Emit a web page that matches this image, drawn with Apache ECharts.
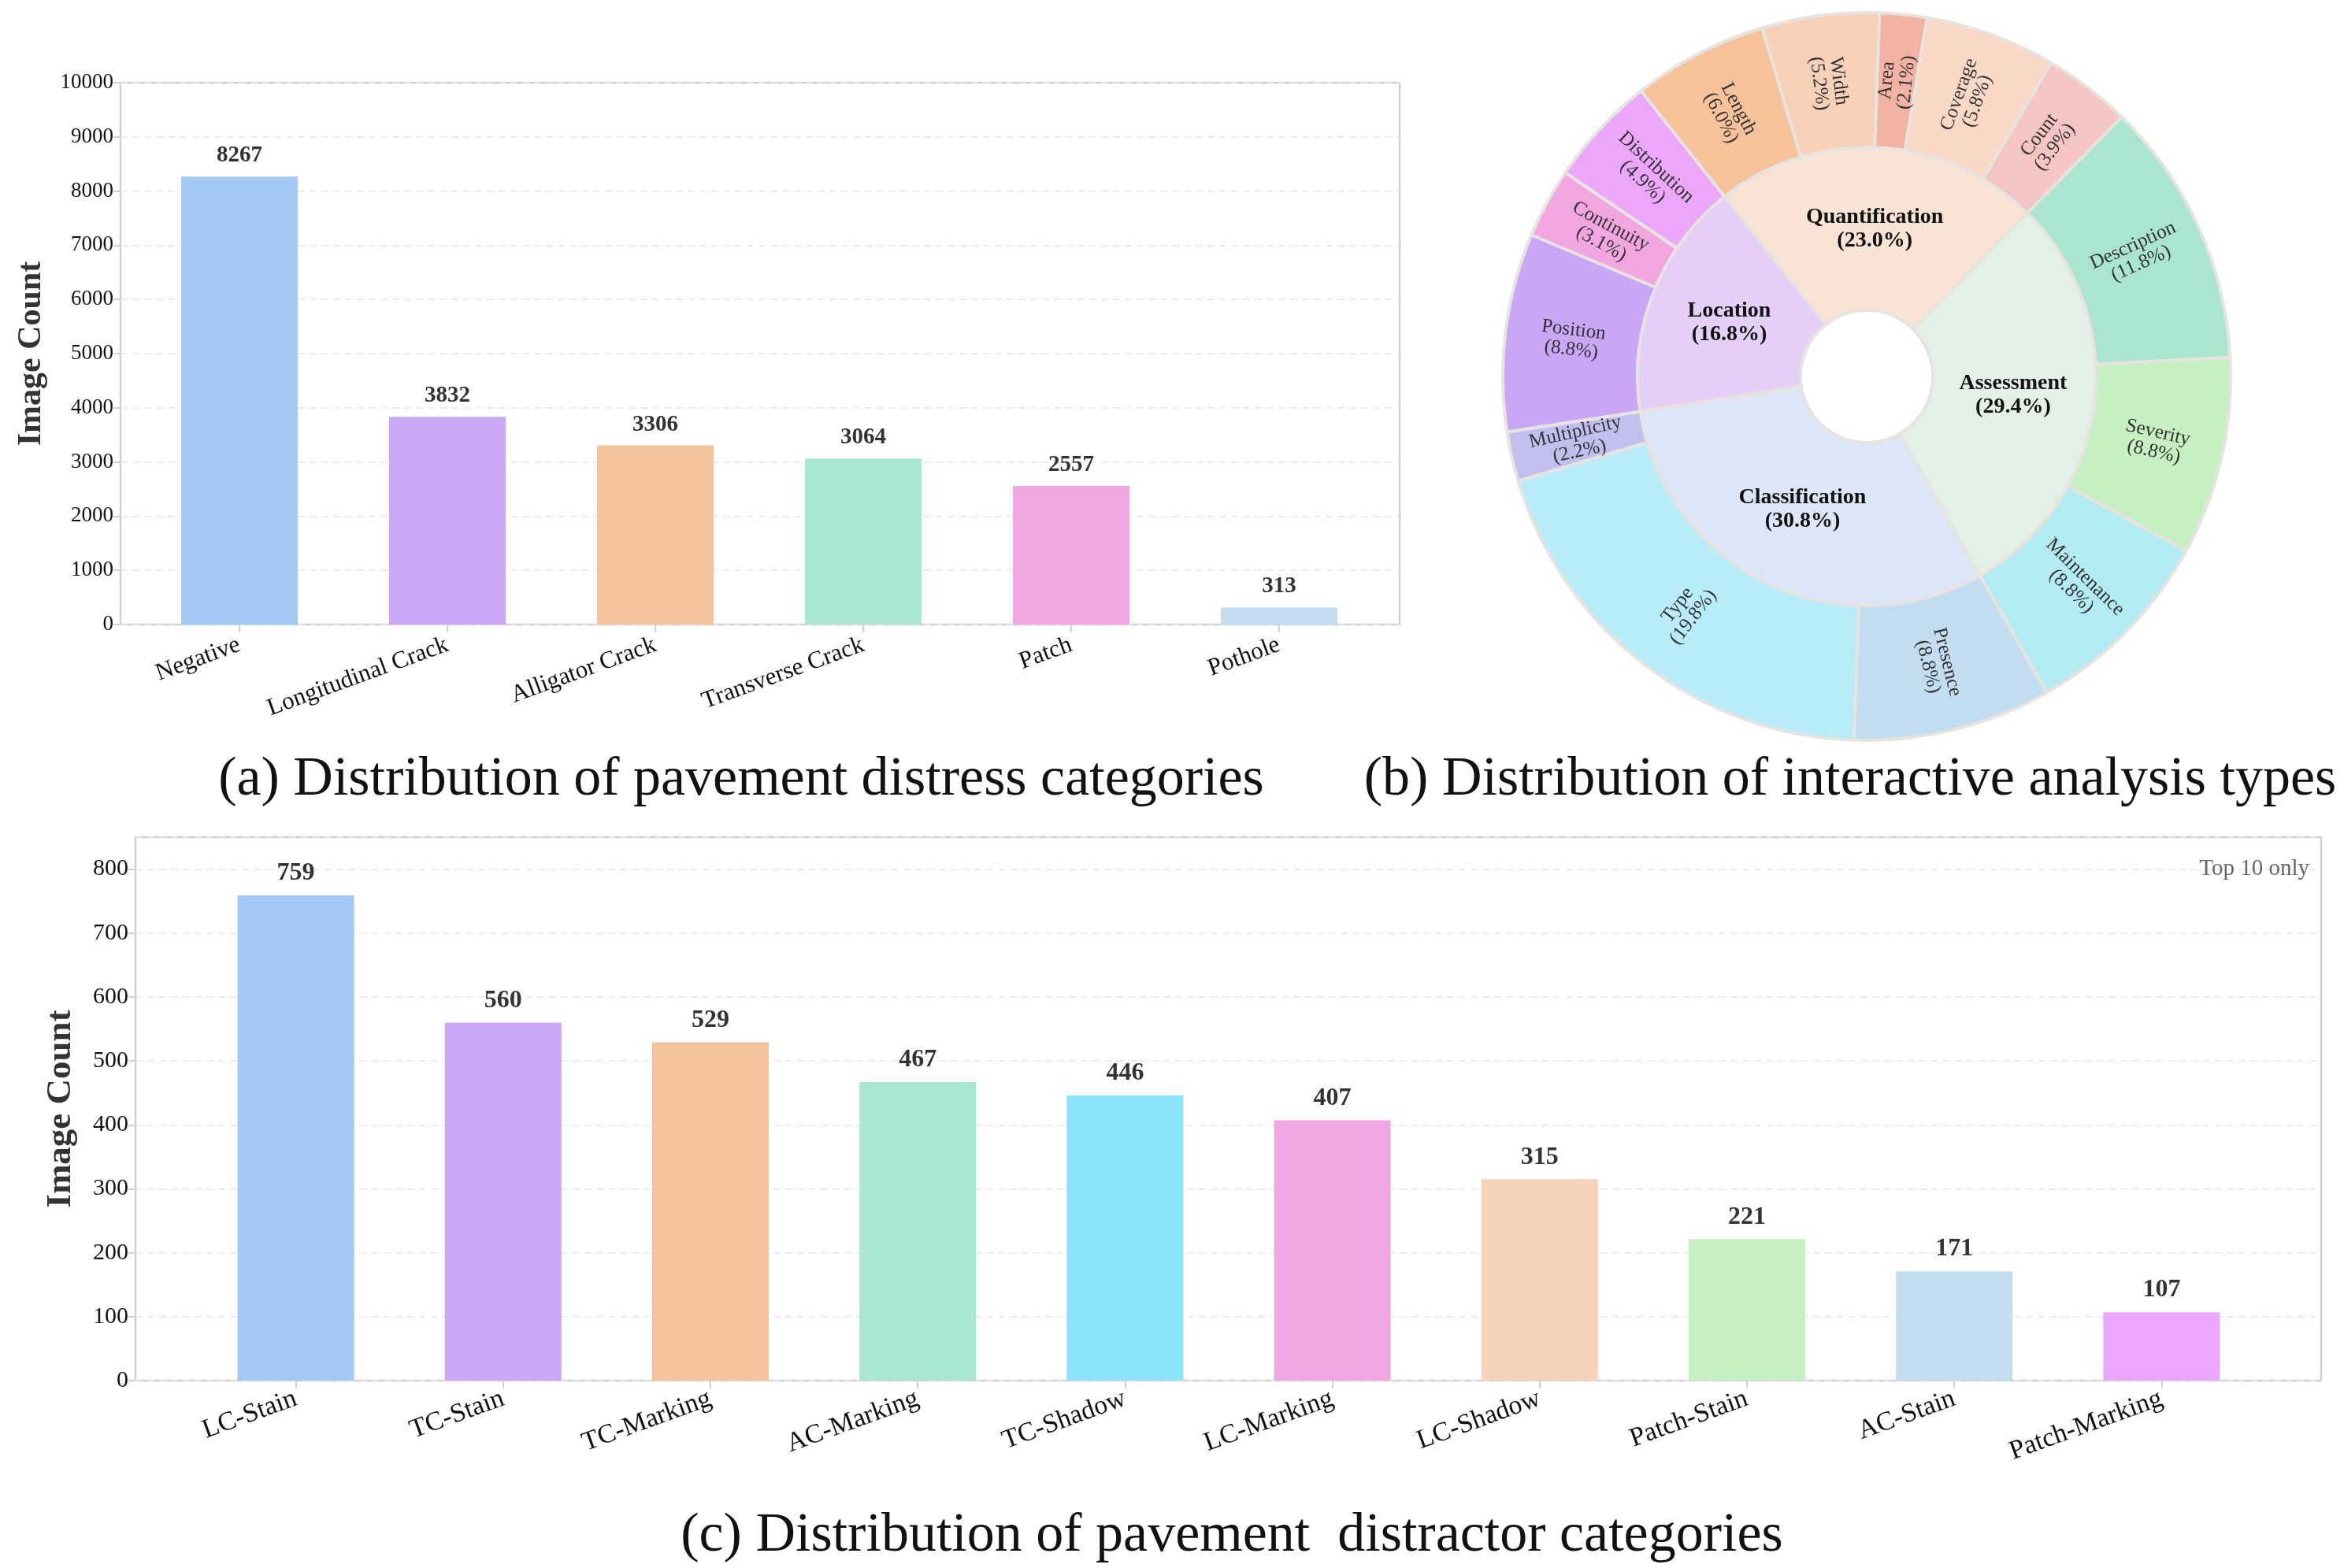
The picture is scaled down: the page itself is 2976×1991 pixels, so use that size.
<!DOCTYPE html>
<html>
<head>
<meta charset="utf-8">
<script src="https://cdn.jsdelivr.net/npm/echarts@6/dist/echarts.min.js"></script>
<style>
html,body{margin:0;padding:0;background:#fff;}
#c{width:2976px;height:1991px;}
</style>
</head>
<body>
<div id="c"></div>
<script>
// ---------- DATA ----------
const distressCategories = ['Negative', 'Longitudinal Crack', 'Alligator Crack', 'Transverse Crack', 'Patch', 'Pothole'];
const distressCounts = [8267, 3832, 3306, 3064, 2557, 313];
const distressColors = ['#a3c8f3', '#c9a8f7', '#f5c39b', '#aae7d2', '#f1a7e1', '#c2ddef'];
const distressTicks = [0, 1000, 2000, 3000, 4000, 5000, 6000, 7000, 8000, 9000, 10000];

const distractorCategories = ['LC-Stain', 'TC-Stain', 'TC-Marking', 'AC-Marking', 'TC-Shadow', 'LC-Marking', 'LC-Shadow', 'Patch-Stain', 'AC-Stain', 'Patch-Marking'];
const distractorCounts = [759, 560, 529, 467, 446, 407, 315, 221, 171, 107];
const distractorColors = ['#a3c8f3', '#c9a8f7', '#f5c39b', '#aae7d2', '#8ae4fa', '#f1a7e1', '#f5d2b8', '#c6f0c2', '#c2ddef', '#eaa7fb'];

const analysisGroups = ['Assessment', 'Classification', 'Location', 'Quantification'];
const analysisGroupPct = [29.4, 30.8, 16.8, 23.0];
const analysisGroupColors = ['#e2f0e6', '#dce6f6', '#e6cff7', '#f9e3d5'];
const analysisChildNames = [
  ['Description', 'Severity', 'Maintenance'],
  ['Presence', 'Type', 'Multiplicity'],
  ['Position', 'Continuity', 'Distribution'],
  ['Length', 'Width', 'Area', 'Coverage', 'Count']
];
const analysisChildPct = [
  [11.8, 8.8, 8.8],
  [8.8, 19.8, 2.2],
  [8.8, 3.1, 4.9],
  [6.0, 5.2, 2.1, 5.8, 3.9]
];
const analysisChildColors = [
  ['#a9e5cf', '#c6efc2', '#b2ebf2'],
  ['#c1ddef', '#b8ecf9', '#c0bfee'],
  ['#caa6f7', '#f1a6e0', '#eca6fa'],
  ['#f5c299', '#f6d1b7', '#f2b3a2', '#f9d9c5', '#f5c5c4']
];

const captions = ['(a) Distribution of pavement distress categories', '(b) Distribution of interactive analysis types', '(c) Distribution of pavement  distractor categories'];
const noteText = 'Top 10 only';

// ---------- BUILD ----------
const FONT = '"Liberation Serif", "Times New Roman", serif';
const frameColor = '#d0d0d0';

const sunData = analysisGroups.map((g, i) => ({
  name: g,
  value: analysisGroupPct[i],
  itemStyle: { color: analysisGroupColors[i] },
  children: analysisChildNames[i].map((n, j) => ({
    name: n,
    value: analysisChildPct[i][j],
    itemStyle: { color: analysisChildColors[i][j] }
  }))
}));

function frameY(gi, max, interval, fs, nameFs, nameGap, showMax) {
  return {
    gridIndex: gi, type: 'value', min: 0, max: max, interval: interval,
    axisLine: { show: false },
    axisTick: { show: true, length: 9, lineStyle: { color: frameColor, width: 2 } },
    axisLabel: { fontFamily: FONT, fontSize: fs, color: '#111', margin: 9, showMaxLabel: showMax, formatter: v => String(v) },
    splitLine: { show: true, lineStyle: { color: '#e6e6e6', width: 1.5, type: [9, 6] } },
    name: 'Image Count', nameLocation: 'middle', nameGap: nameGap,
    nameTextStyle: { fontFamily: FONT, fontSize: nameFs, fontWeight: 'bold', color: '#333' }
  };
}
function barX(gi, cats, fs, margin) {
  return {
    gridIndex: gi, type: 'category', data: cats,
    axisLine: { show: false },
    axisTick: { show: true, alignWithLabel: true, length: 10, lineStyle: { color: frameColor, width: 2 } },
    axisLabel: { rotate: 20, fontFamily: FONT, fontSize: fs, color: '#111', margin: margin, interval: 0 }
  };
}
function barSeries(xi, vals, colors, fs) {
  return {
    type: 'bar', xAxisIndex: xi, yAxisIndex: xi, barWidth: 148,
    data: vals.map((v, i) => ({ value: v, itemStyle: { color: colors[i] } })),
    label: { show: true, position: 'top', distance: 12, fontFamily: FONT, fontSize: fs, fontWeight: 'bold', color: '#333' },
    silent: true
  };
}

const option = {
  animation: false,
  backgroundColor: '#fff',
  grid: [
    { left: 153, top: 105, width: 1624, height: 688, show: true, borderColor: frameColor, borderWidth: 2.5, backgroundColor: 'transparent' },
    { left: 172, top: 105, width: 1584, height: 688 },
    { left: 172, top: 1063, width: 2775, height: 690, show: true, borderColor: frameColor, borderWidth: 2.5, backgroundColor: 'transparent' },
    { left: 244, top: 1063, width: 2632, height: 690 }
  ],
  xAxis: [
    { gridIndex: 0, type: 'value', min: 0, max: 1, show: false },
    barX(1, distressCategories, 31, 25),
    { gridIndex: 2, type: 'value', min: 0, max: 1, show: false },
    barX(3, distractorCategories, 34, 22)
  ],
  yAxis: [
    frameY(0, distressTicks[distressTicks.length - 1], 1000, 27, 42, 92, true),
    { gridIndex: 1, type: 'value', min: 0, max: 10000, show: false },
    frameY(2, 850, 100, 30, 45, 72, false),
    { gridIndex: 3, type: 'value', min: 0, max: 850, show: false }
  ],
  series: [
    barSeries(1, distressCounts, distressColors, 29),
    barSeries(3, distractorCounts, distractorColors, 32),
    {
      type: 'sunburst',
      center: [2370, 478],
      radius: [84, 462],
      startAngle: 45.5,
      sort: null,
      nodeClick: false,
      emphasis: { disabled: true },
      data: sunData,
      itemStyle: { borderColor: '#e7e3df', borderWidth: 4 },
      label: {
        fontFamily: FONT,
        formatter: p => p.name + '\n(' + Number(p.value).toFixed(1) + '%)'
      },
      levels: [
        {},
        { r0: 84, r: 291, label: { rotate: 0, fontSize: 28, lineHeight: 30, fontWeight: 'bold', color: '#111' } },
        { r0: 291, r: 462, label: { rotate: 'radial', fontSize: 25, lineHeight: 25, color: '#333' } }
      ]
    }
  ],
  graphic: [
    { type: 'text', x: 941, y: 991, style: { text: captions[0], font: '70px ' + FONT, fill: '#111', textAlign: 'center', textVerticalAlign: 'middle' } },
    { type: 'text', x: 2349, y: 991, style: { text: captions[1], font: '70px ' + FONT, fill: '#111', textAlign: 'center', textVerticalAlign: 'middle' } },
    { type: 'text', x: 1564, y: 1951, style: { text: captions[2], font: '70px ' + FONT, fill: '#111', textAlign: 'center', textVerticalAlign: 'middle' } },
    { type: 'text', x: 2932, y: 1103, z: 10, style: { text: noteText, font: '29px ' + FONT, fill: '#666', textAlign: 'right', textVerticalAlign: 'middle' } }
  ]
};

const chart = echarts.init(document.getElementById('c'), null, { renderer: 'canvas' });
chart.setOption(option);
</script>
</body>
</html>
